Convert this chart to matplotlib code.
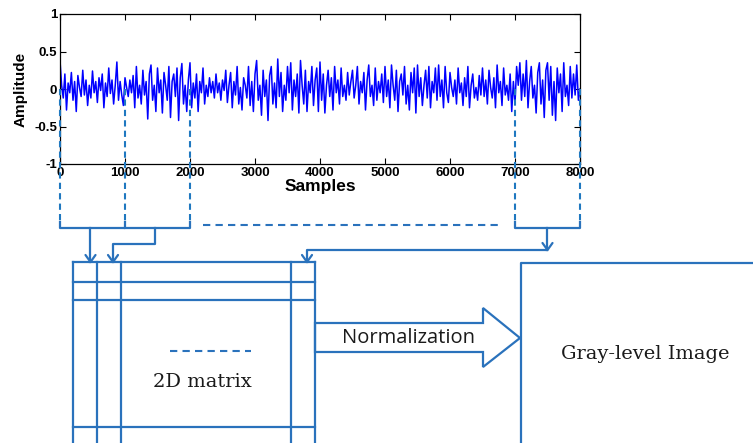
import matplotlib
matplotlib.use("Agg")
import matplotlib.pyplot as plt
import numpy as np

# ---------------- data ----------------
sample_step = 25
signal_values = [
    0.38, 0.05, -0.12, 0.2, -0.28, 0.08, -0.05, 0.22, -0.15, 0.1, -0.3, 0.18, 0.02, -0.1, 0.25, -0.08, 0.12, -0.22, 0.05, -0.12,
    0.24, -0.05, 0.1, -0.18, 0.15, -0.02, 0.2, -0.25, 0.08, -0.1, 0.28, -0.06, 0.12, -0.2, 0.05, 0.36, -0.15, 0.1, -0.08, -0.22,
    0.15, 0.02, -0.1, 0.12, -0.05, 0.18, -0.25, 0.3, -0.12, 0.05, -0.2, 0.25, -0.08, 0.1, -0.4, 0.2, 0.32, -0.15, 0.05, -0.3,
    0.28, -0.05, 0.12, -0.32, 0.22, 0.05, -0.15, 0.3, -0.38, 0.1, 0.2, -0.1, 0.28, -0.42, 0.15, 0.34, -0.2, 0.05, -0.3, 0.12,
    0.35, -0.25, 0.08, -0.12, 0.2, -0.3, 0.1, -0.05, 0.28, -0.2, 0.05, -0.1, 0.15, -0.05, 0.1, -0.12, 0.2, -0.05, 0.08, -0.15,
    0.12, -0.02, 0.25, -0.18, 0.05, 0.22, -0.25, 0.1, -0.08, 0.3, -0.2, 0.02, -0.28, 0.15, 0.05, -0.12, 0.3, -0.22, 0.1, -0.3,
    0.2, 0.38, -0.15, 0.05, -0.35, 0.25, -0.1, 0.12, -0.42, 0.18, 0.3, -0.2, 0.08, -0.25, 0.4, -0.1, 0.22, -0.3, 0.05, -0.15,
    0.3, -0.05, 0.35, -0.28, 0.12, -0.1, 0.2, -0.32, 0.38, 0.05, -0.2, 0.25, -0.3, 0.1, -0.05, 0.3, -0.22, 0.12, 0.28, -0.3,
    0.36, -0.15, 0.2, -0.32, 0.05, 0.25, -0.1, 0.15, -0.28, 0.3, -0.05, 0.12, -0.2, 0.28, -0.1, 0.05, -0.15, 0.22, -0.08, 0.1,
    0.25, -0.12, 0.05, 0.3, -0.2, 0.1, -0.05, 0.22, -0.28, 0.12, 0.32, -0.1, 0.05, -0.22, 0.28, -0.15, 0.1, -0.05, 0.2, -0.18,
    0.3, -0.1, 0.12, -0.25, 0.32, 0.05, -0.15, 0.25, -0.3, 0.1, 0.2, -0.08, 0.3, -0.2, 0.05, -0.28, 0.22, -0.05, 0.28, -0.32,
    0.32, -0.1, 0.15, -0.22, 0.05, 0.25, -0.12, 0.3, -0.25, 0.1, -0.05, 0.28, -0.15, 0.32, -0.1, 0.12, -0.25, 0.3, -0.05, -0.18,
    0.22, 0.02, -0.1, 0.12, -0.2, 0.28, -0.05, 0.08, -0.22, 0.15, -0.1, 0.3, -0.25, 0.05, 0.2, -0.12, 0.02, -0.15, 0.18, -0.08,
    0.28, -0.1, 0.12, -0.2, 0.25, 0.02, -0.12, 0.15, -0.25, 0.32, -0.05, 0.1, -0.22, 0.28, -0.08, 0.05, -0.15, 0.2, -0.3, 0.1,
    -0.2, 0.3, 0.05, 0.35, -0.15, 0.2, -0.1, 0.38, -0.25, 0.1, 0.3, -0.12, 0.05, -0.32, 0.22, 0.35, -0.2, 0.12, -0.38, 0.25,
    0.35, -0.15, 0.3, -0.35, 0.1, -0.42, 0.28, -0.05, 0.2, -0.3, 0.35, -0.1, 0.05, -0.22, 0.3, -0.12, 0.2, -0.08, 0.32, -0.15,
    0.0,
]
x_ticks = [0, 1000, 2000, 3000, 4000, 5000, 6000, 7000, 8000]
y_ticks = [-1, -0.5, 0, 0.5, 1]
y_tick_labels = ["-1", "-0.5", "0", "0.5", "1"]
segment_marks = [0, 1000, 2000, 7000, 8000]

W, H = 753, 443
fig = plt.figure(figsize=(W / 100, H / 100), dpi=100)
fig.patch.set_facecolor("white")

# ---------------- signal plot ----------------
L, R, T, B = 60, 580, 14, 164
ax = fig.add_axes([L / W, 1 - B / H, (R - L) / W, (B - T) / H])
xs = np.arange(len(signal_values)) * sample_step
ax.plot(xs, signal_values, color="#0000ff", lw=1.1)
ax.set_xlim(0, 8000)
ax.set_ylim(-1, 1)
ax.set_xticks(x_ticks)
ax.set_yticks(y_ticks)
ax.set_yticklabels(y_tick_labels)
ax.tick_params(direction="in", top=True, right=True, length=4, width=0.8, pad=2,
               labelsize=9.5)
for lab in ax.get_xticklabels() + ax.get_yticklabels():
    lab.set_fontweight("bold")
    lab.set_family("Liberation Sans")
ax.set_xlabel("Samples", fontsize=12.5, fontweight="bold", family="Liberation Sans", labelpad=0)
ax.set_ylabel("Amplitude", fontsize=11, fontweight="bold", family="Liberation Sans", labelpad=5)
for s in ax.spines.values():
    s.set_linewidth(0.9)
ax.set_facecolor("none")

# ---------------- diagram overlay (pixel coordinates) ----------------
ov = fig.add_axes([0, 0, 1, 1])
ov.set_xlim(0, W)
ov.set_ylim(H, 0)
ov.axis("off")
ov.patch.set_alpha(0)

C = "#2A72BC"
LW = 1.6

def px(v):
    return L + v / 8000 * (R - L)

def vee(x, y, s=5):
    ov.plot([x - s, x, x + s], [y - 7, y, y - 7], color=C, lw=LW, solid_capstyle="round")

zero_y = 89
for m in segment_marks:
    ov.plot([px(m), px(m)], [zero_y, 222], color="#1F78C0", lw=1.5, ls=(0, (3, 2)))

# left brackets
b_y = 228
x0, x1, x2 = px(0), px(1000), px(2000)
ov.plot([x0, x0, x1, x1], [222, b_y, b_y, 222], color=C, lw=LW)
ov.plot([x1, x2, x2], [b_y, b_y, 222], color=C, lw=LW)
s1 = (x0 + x1) / 2 - 2
ov.plot([s1, s1], [b_y, 262], color=C, lw=LW)
vee(s1, 262)
s2 = (x1 + x2) / 2 - 2
ov.plot([s2, s2, 113, 113], [b_y, 244, 244, 262], color=C, lw=LW)
vee(113, 262)

# dashed placeholder
ov.plot([203, 500], [225, 225], color=C, lw=1.5, ls=(0, (3.5, 2.5)))

# right bracket
x7, x8 = px(7000), px(8000)
ov.plot([x7, x7, x8, x8], [222, b_y, b_y, 222], color=C, lw=LW)
s3 = (x7 + x8) / 2
ov.plot([s3, s3], [b_y, 250], color=C, lw=LW)
vee(s3, 250)
ov.plot([s3, 307, 307], [250, 250, 262], color=C, lw=LW)
vee(307, 262)

# matrix
mx0, mx1, my0 = 73, 315, 262
for xv in [mx0, 97, 121, 291, mx1]:
    ov.plot([xv, xv], [my0, H + 5], color=C, lw=LW)
for yv in [my0, 282, 300, 427]:
    ov.plot([mx0, mx1], [yv, yv], color=C, lw=LW)
ov.plot([170, 251], [351, 351], color=C, lw=1.5, ls=(0, (3.5, 2.5)))
ov.text(202, 382, "2D matrix", ha="center", va="center", fontsize=14,
        family="DejaVu Serif", color="#1a1a1a")

# normalization arrow
arrow = [(315, 323), (483, 323), (483, 308), (520, 338), (483, 367), (483, 352), (315, 352)]
ov.add_patch(plt.Polygon(arrow, closed=True, facecolor="white", edgecolor=C, lw=LW))
ov.text(409, 338, "Normalization", ha="center", va="center", fontsize=14.5,
        family="Open Sans", color="#1a1a1a")

# gray-level image box
ov.plot([521, 521, W + 5], [H + 5, 263, 263], color=C, lw=LW)
ov.text(645, 354, "Gray-level Image", ha="center", va="center", fontsize=14,
        family="DejaVu Serif", color="#1a1a1a")

fig.savefig("out.png", dpi=100)
